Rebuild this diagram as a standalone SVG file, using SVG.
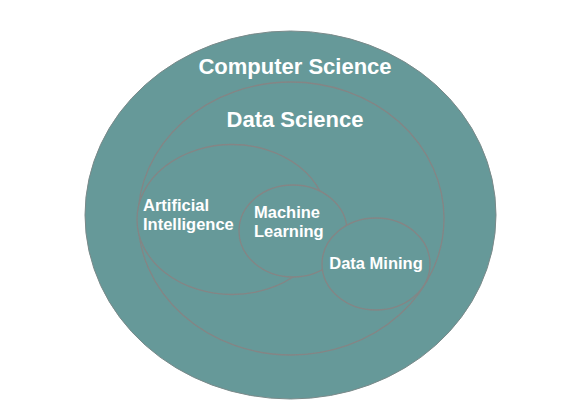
<svg xmlns="http://www.w3.org/2000/svg" width="583" height="411" viewBox="0 0 583 411">
<style>
.e{fill:#669999;stroke:#858585;stroke-width:1.3}
.o{fill:#669999;stroke:#7a8a8a;stroke-width:1}
.t{fill:#ffffff;font-family:"Liberation Sans",Arial,sans-serif;font-weight:bold}
.big{font-size:22px}
.sm{font-size:16.5px}
</style>
<rect width="583" height="411" fill="#ffffff"/>
<g id="computer-science">
<ellipse class="o" cx="290.5" cy="215" rx="205.5" ry="184"/>
<text class="t big" x="295" y="74" text-anchor="middle">Computer Science</text>
</g>
<g id="data-science">
<ellipse class="e" cx="291" cy="218.5" rx="153" ry="136.5"/>
<text class="t big" x="295" y="127" text-anchor="middle">Data Science</text>
</g>
<g id="artificial-intelligence">
<ellipse class="e" cx="232" cy="219.5" rx="95" ry="75"/>
<text class="t sm" x="143" y="211">Artificial</text>
<text class="t sm" x="143" y="230">Intelligence</text>
</g>
<g id="machine-learning">
<ellipse class="e" cx="293" cy="231" rx="54" ry="46"/>
<text class="t sm" x="254" y="218">Machine</text>
<text class="t sm" x="254" y="237">Learning</text>
</g>
<g id="data-mining">
<ellipse class="e" cx="376" cy="264" rx="54" ry="46"/>
<text class="t sm" x="376" y="269" text-anchor="middle">Data Mining</text>
</g>
<g id="connectors"/>
</svg>
